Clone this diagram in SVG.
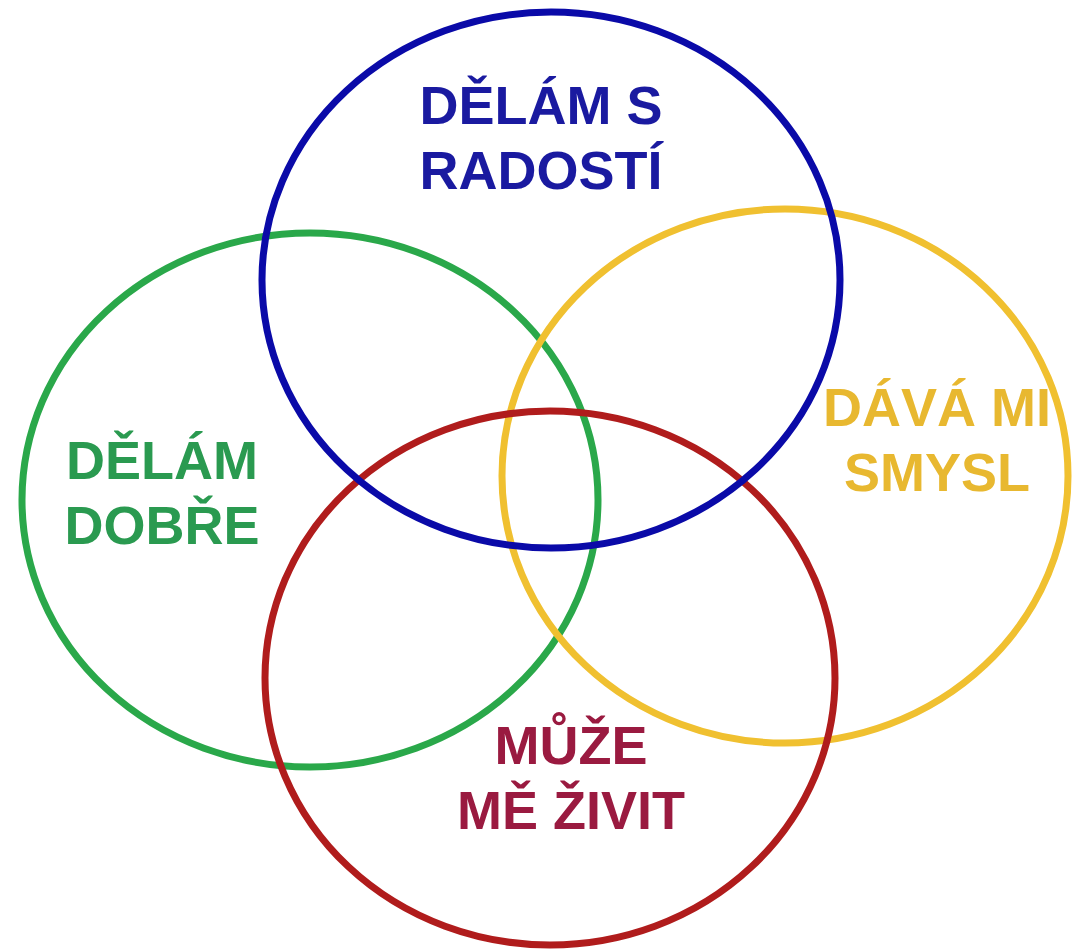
<svg xmlns="http://www.w3.org/2000/svg" width="1072" height="952" viewBox="0 0 1072 952">
<style>
.c{fill:none;stroke-width:7}
.t{font-family:"Liberation Sans",Arial,sans-serif;font-weight:bold;font-size:54px;text-anchor:middle}
</style>
<rect width="1072" height="952" fill="#ffffff"/>
<g id="green"><ellipse class="c" cx="310" cy="500" rx="288" ry="267" stroke="#2aa84a"/></g>
<g id="yellow"><ellipse class="c" cx="785" cy="476" rx="283" ry="267" stroke="#f0c030"/></g>
<g id="red"><ellipse class="c" cx="550" cy="678" rx="285" ry="267" stroke="#b01c1c"/></g>
<g id="blue"><ellipse class="c" cx="551" cy="280" rx="289" ry="268" stroke="#0a0aa8"/></g>
<g id="labels">
<text class="t" fill="#1a1aa0" x="541" y="124">DĚLÁM S</text>
<text class="t" fill="#1a1aa0" x="541" y="189">RADOSTÍ</text>
<text class="t" fill="#2a9a50" x="162" y="479">DĚLÁM</text>
<text class="t" fill="#2a9a50" x="162" y="544">DOBŘE</text>
<text class="t" fill="#e8b830" x="937" y="426">DÁVÁ MI</text>
<text class="t" fill="#e8b830" x="937" y="491">SMYSL</text>
<text class="t" fill="#9a1a40" x="571" y="764">MŮŽE</text>
<text class="t" fill="#9a1a40" x="571" y="829">MĚ ŽIVIT</text>
</g>
</svg>
